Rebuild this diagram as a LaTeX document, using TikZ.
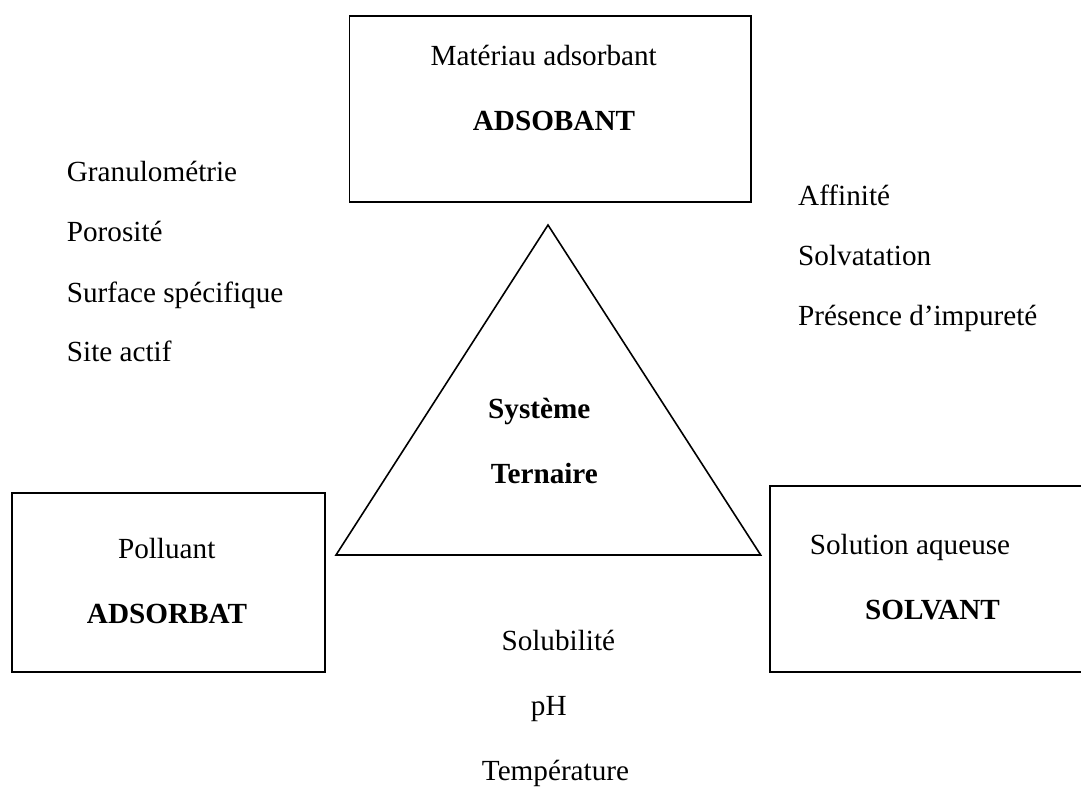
\documentclass[tikz,border=0pt]{standalone}
\usepackage{fontspec}
\setmainfont{Liberation Serif}
\begin{document}
\begin{tikzpicture}[x=1pt,y=-1pt,
  txt/.style={inner sep=0pt,anchor=base,font=\fontsize{29.2}{34}\selectfont},
  lst/.style={txt,anchor=base west},
  btxt/.style={txt,font=\fontsize{29.2}{34}\selectfont\bfseries},
  boxframe/.style={draw,line width=1.6pt,inner sep=0pt}]
\useasboundingbox (0,0) rectangle (1081,787);
\clip (0,0) rectangle (1081,787);
% boxes
\node[boxframe,minimum width=401.4pt,minimum height=186pt] (top) at (550,109) {};
\node[boxframe,minimum width=313.3pt,minimum height=178.7pt] (left) at (168.35,582.35) {};
\node[boxframe,minimum width=330pt,minimum height=186pt] (right) at (935,579) {};
% triangle
\coordinate (apex) at (548,225);
\coordinate (bl) at (336,555);
\coordinate (br) at (760.7,555);
\draw[line width=1.6pt,line join=miter] (apex) -- (bl) -- (br) -- cycle;
% texts in boxes
\node[txt] (mat) at (543.7,65) {Matériau adsorbant};
\node[btxt] (ads) at (554,130.7) {ADSOBANT};
\node[txt] (pol) at (166.7,558) {Polluant};
\node[btxt] (adsb) at (167,623) {ADSORBAT};
\node[txt] (sol) at (910,554) {Solution aqueuse};
\node[btxt] (solv) at (932.5,619) {SOLVANT};
% triangle text
\node[btxt] (sys) at (539.3,418) {Système};
\node[btxt] (ter) at (544.3,483) {Ternaire};
% left list
\node[lst] (g) at (66.7,181.7) {Granulométrie};
\node[lst] (p) at (66.7,241.7) {Porosité};
\node[lst] (s) at (66.7,302.7) {Surface spécifique};
\node[lst] (sa) at (66.7,361.7) {Site actif};
% right list
\node[lst] (af) at (798,205) {Affinité};
\node[lst] (sv) at (798,265) {Solvatation};
\node[lst] (pr) at (798,325) {Présence d’impureté};
% bottom list
\node[txt] (sb) at (558.3,650) {Solubilité};
\node[txt] (ph) at (548.8,715) {pH};
\node[txt] (tp) at (555.5,780) {Température};
\end{tikzpicture}
\end{document}
